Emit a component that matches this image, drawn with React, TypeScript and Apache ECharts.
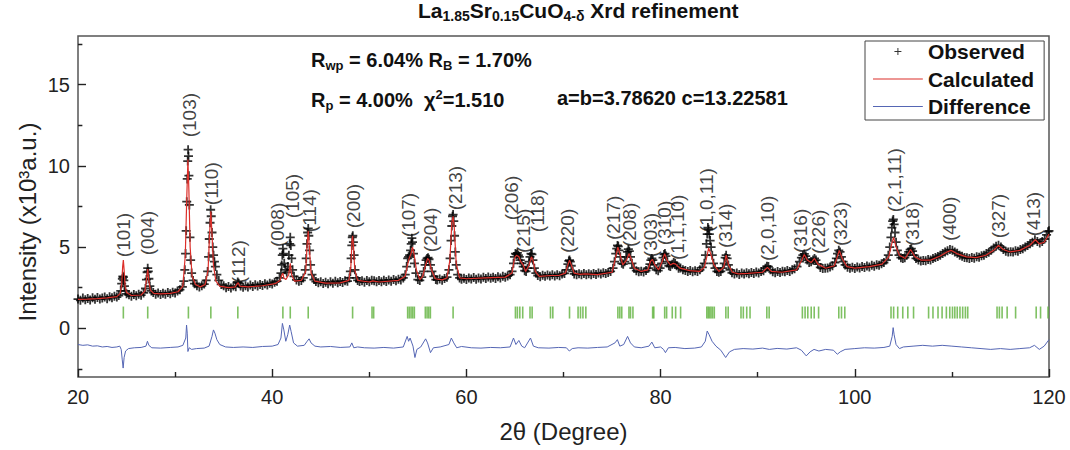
import { useEffect, useRef } from "react";
import * as echarts from "echarts";

const FONT = '"Liberation Sans", Arial, Helvetica, sans-serif';

// 2θ (deg), intensity (x10^3 a.u.)
const observed: [number, number][] = [
  [20.0,1.80],[20.25,1.72],[20.5,1.86],[20.75,1.76],[21.0,1.84],[21.25,1.74],[21.5,1.88],[21.75,1.79],[22.0,1.90],[22.25,1.80],[22.5,1.86],[22.75,1.92],[23.0,1.82],[23.25,1.94],[23.5,1.88],[23.75,1.98],[24.0,1.92],[24.2,2.02],
  [24.4,2.3],[24.5,2.75],[24.57,3.05],[24.62,3.2],[24.67,3.15],[24.72,2.95],[24.78,2.6],[24.88,2.3],[25.0,2.12],
  [25.25,2.06],[25.5,1.98],[25.75,2.08],[26.0,2.0],[26.25,2.1],[26.5,2.04],[26.75,2.18],
  [26.95,2.45],[27.05,3.0],[27.12,3.45],[27.18,3.7],[27.24,3.5],[27.3,3.05],[27.4,2.6],[27.55,2.3],
  [27.75,2.2],[28.0,2.1],[28.25,2.18],[28.5,2.08],[28.75,2.16],[29.0,2.1],[29.25,2.2],[29.5,2.12],[29.75,2.22],[30.0,2.18],[30.25,2.3],[30.5,2.38],[30.75,2.55],
  [30.9,2.9],[31.0,3.6],[31.08,4.6],[31.14,6.0],[31.2,7.8],[31.25,9.2],[31.3,10.3],[31.34,11.0],[31.38,10.6],[31.42,9.4],[31.47,7.6],[31.53,5.6],[31.6,4.2],[31.7,3.4],[31.85,2.95],[32.0,2.75],[32.25,2.62],[32.5,2.55],[32.75,2.62],[33.0,2.72],[33.2,2.95],
  [33.35,3.5],[33.45,4.4],[33.52,5.5],[33.6,6.5],[33.66,7.3],[33.72,6.9],[33.8,5.9],[33.88,5.0],[33.96,4.5],[34.05,4.1],[34.15,3.8],[34.3,3.3],[34.5,2.95],[34.75,2.7],[35.0,2.62],[35.25,2.5],[35.5,2.58],[35.75,2.48],[36.0,2.6],[36.25,2.56],[36.45,2.85],[36.55,2.78],[36.75,2.6],[37.0,2.52],[37.25,2.62],[37.5,2.55],[37.75,2.66],[38.0,2.58],[38.25,2.68],[38.5,2.6],[38.75,2.7],[39.0,2.64],[39.25,2.74],[39.5,2.66],[39.75,2.78],[40.0,2.72],[40.25,2.84],[40.5,2.9],[40.75,3.1],
  [40.9,3.4],[40.98,3.9],[41.04,4.5],[41.1,4.9],[41.16,4.6],[41.24,4.0],[41.35,3.6],[41.5,3.45],[41.62,3.8],[41.72,4.5],[41.8,5.2],[41.86,5.6],[41.92,5.1],[42.0,4.3],[42.1,3.6],[42.25,3.2],[42.5,2.98],[42.75,2.9],[43.0,2.95],[43.2,3.1],[43.4,3.6],
  [43.5,4.3],[43.58,5.2],[43.65,5.9],[43.71,6.15],[43.77,5.7],[43.85,4.8],[43.95,3.9],[44.1,3.3],[44.3,3.0],[44.5,2.88],[44.75,2.8],[45.0,2.86],[45.25,2.76],[45.5,2.84],[45.75,2.74],[46.0,2.86],[46.25,2.78],[46.5,2.9],[46.75,2.8],[47.0,2.88],[47.25,2.82],[47.5,2.92],[47.75,2.9],[47.95,3.1],
  [48.05,3.5],[48.13,4.3],[48.2,5.1],[48.25,5.6],[48.3,5.7],[48.36,5.3],[48.43,4.5],[48.52,3.6],[48.65,3.1],[48.8,2.95],[49.0,2.88],[49.25,2.92],[49.5,2.84],[49.75,2.94],[50.0,2.86],[50.25,2.96],[50.5,2.92],[50.75,2.86],[51.0,2.94],[51.25,2.86],[51.5,2.96],[51.75,2.88],[52.0,2.98],[52.25,2.9],[52.5,3.0],[52.75,2.92],[53.0,3.02],[53.25,2.98],[53.5,3.1],[53.7,3.3],
  [53.85,3.8],[53.95,4.3],[54.05,4.4],[54.15,4.5],[54.25,4.8],[54.32,5.2],[54.38,5.55],[54.45,5.3],[54.55,4.6],[54.65,4.0],[54.8,3.4],[55.0,3.0],[55.2,2.95],[55.4,3.15],[55.6,3.5],
  [55.75,3.9],[55.85,4.2],[55.95,4.3],[56.05,4.35],[56.15,4.25],[56.3,3.9],[56.45,3.5],[56.65,3.2],[56.85,3.0],[57.0,2.98],[57.25,3.04],[57.5,2.96],[57.75,3.06],[58.0,3.15],[58.2,3.6],
  [58.32,4.3],[58.42,5.4],[58.5,6.3],[58.57,6.9],[58.63,7.0],[58.7,6.6],[58.78,5.7],[58.86,4.7],[58.95,3.9],[59.1,3.3],[59.3,3.1],[59.5,3.02],[59.75,3.08],[60.0,3.0],[60.25,3.1],[60.5,3.04],[60.75,3.12],[61.0,3.02],[61.25,3.1],[61.5,3.04],[61.75,3.14],[62.0,3.06],[62.25,3.16],[62.5,3.08],[62.75,3.14],[63.0,3.06],[63.25,3.18],[63.5,3.1],[63.75,3.2],[64.0,3.14],[64.25,3.22],[64.5,3.3],
  [64.7,3.5],[64.85,4.0],[64.95,4.4],[65.05,4.6],[65.15,4.55],[65.25,4.65],[65.35,4.5],[65.45,4.4],[65.55,4.2],[65.7,4.0],[65.85,3.8],[66.0,3.55],[66.15,3.5],[66.3,3.7],[66.45,4.1],[66.55,4.4],[66.65,4.6],[66.75,4.55],[66.85,4.2],[67.0,3.7],[67.15,3.4],[67.35,3.25],[67.6,3.18],[67.85,3.26],[68.1,3.2],[68.35,3.28],[68.6,3.22],[68.85,3.3],[69.1,3.22],[69.35,3.3],[69.6,3.24],[69.85,3.34],[70.1,3.38],[70.3,3.6],
  [70.45,3.95],[70.55,4.15],[70.62,4.2],[70.7,4.1],[70.8,3.85],[70.95,3.5],[71.1,3.35],[71.35,3.3],[71.6,3.36],[71.85,3.3],[72.1,3.38],[72.35,3.3],[72.6,3.36],[72.85,3.3],[73.1,3.38],[73.35,3.32],[73.6,3.4],[73.85,3.34],[74.1,3.42],[74.35,3.38],[74.6,3.44],[74.85,3.5],[75.1,3.7],
  [75.25,4.1],[75.38,4.6],[75.48,4.9],[75.56,5.1],[75.64,5.05],[75.72,4.8],[75.85,4.4],[76.0,4.0],[76.15,3.95],[76.3,4.1],[76.45,4.4],[76.58,4.7],[76.68,4.87],[76.78,4.75],[76.9,4.4],[77.05,4.0],[77.25,3.7],[77.5,3.55],[77.75,3.48],[78.0,3.52],[78.25,3.46],[78.5,3.56],[78.75,3.7],
  [78.9,3.95],[79.0,4.2],[79.1,4.3],[79.2,4.2],[79.35,3.9],[79.55,3.6],[79.75,3.55],[79.95,3.7],[80.1,4.0],
  [80.25,4.35],[80.35,4.55],[80.45,4.6],[80.55,4.45],[80.7,4.1],[80.85,3.85],[81.0,3.8],
  [81.2,3.95],[81.35,4.05],[81.5,4.0],[81.65,3.85],[81.85,3.7],[82.05,3.72],[82.3,3.6],[82.55,3.56],[82.8,3.5],[83.05,3.56],[83.3,3.48],[83.55,3.54],[83.8,3.5],[84.05,3.6],[84.3,3.75],[84.5,4.0],
  [84.62,4.5],[84.72,5.2],[84.8,5.8],[84.87,6.2],[84.94,6.1],[85.02,5.8],[85.1,5.4],[85.2,5.0],[85.32,4.5],[85.45,4.0],[85.6,3.7],[85.8,3.5],[86.0,3.45],[86.2,3.5],[86.4,3.7],
  [86.55,4.0],[86.65,4.35],[86.75,4.5],[86.85,4.3],[86.98,3.9],[87.15,3.6],[87.35,3.42],[87.6,3.34],[87.85,3.4],[88.1,3.32],[88.35,3.4],[88.6,3.34],[88.85,3.42],[89.1,3.36],[89.35,3.44],[89.6,3.38],[89.85,3.46],[90.1,3.4],[90.35,3.5],[90.6,3.55],
  [90.8,3.7],[90.95,3.82],[91.1,3.8],[91.3,3.6],[91.55,3.48],[91.8,3.42],[92.05,3.5],[92.3,3.44],[92.55,3.52],[92.8,3.48],[93.05,3.56],[93.3,3.5],[93.55,3.6],[93.8,3.66],[94.05,3.8],[94.3,4.1],
  [94.5,4.35],[94.65,4.5],[94.8,4.58],[94.95,4.45],[95.1,4.2],[95.3,4.05],[95.5,4.1],[95.7,4.2],[95.85,4.3],[96.0,4.2],[96.2,3.95],[96.45,3.75],[96.7,3.68],[96.95,3.7],[97.2,3.72],[97.45,3.78],[97.7,3.85],[97.95,4.05],
  [98.1,4.3],[98.22,4.6],[98.35,4.8],[98.48,4.7],[98.62,4.4],[98.8,4.1],[99.0,3.9],[99.25,3.76],[99.5,3.7],[99.75,3.76],[100.0,3.68],[100.25,3.78],[100.5,3.72],[100.75,3.8],[101.0,3.74],[101.25,3.84],[101.5,3.78],[101.75,3.88],[102.0,3.82],[102.25,3.92],[102.5,3.88],[102.75,3.98],[103.0,4.05],[103.25,4.2],[103.45,4.5],
  [103.6,5.0],[103.72,5.6],[103.82,6.2],[103.9,6.6],[103.97,6.7],[104.05,6.4],[104.14,5.9],[104.25,5.3],[104.38,4.8],[104.55,4.5],[104.75,4.35],[104.95,4.3],[105.15,4.35],[105.35,4.5],
  [105.55,4.7],[105.7,4.85],[105.82,4.9],[105.95,4.75],[106.1,4.5],[106.3,4.3],[106.55,4.2],[106.8,4.14],[107.05,4.18],[107.3,4.16],[107.55,4.24],[107.8,4.2],[108.05,4.3],[108.3,4.36],[108.55,4.42],[108.8,4.5],[109.05,4.6],[109.3,4.7],[109.55,4.78],[109.8,4.85],[110.05,4.8],[110.3,4.7],[110.55,4.62],[110.8,4.5],[111.05,4.44],[111.3,4.36],[111.55,4.34],[111.8,4.3],[112.05,4.36],[112.3,4.32],[112.55,4.4],[112.8,4.38],[113.05,4.46],[113.3,4.5],[113.55,4.6],[113.8,4.68],[114.05,4.8],[114.3,4.95],[114.55,5.05],[114.8,5.12],[115.05,5.0],[115.3,4.85],[115.55,4.75],[115.8,4.7],[116.05,4.72],[116.3,4.7],[116.55,4.78],[116.8,4.75],[117.05,4.85],[117.3,4.9],[117.55,5.0],[117.8,5.1],[118.05,5.2],[118.3,5.3],[118.55,5.45],[118.8,5.35],[119.05,5.25],[119.3,5.35],[119.55,5.5],[119.75,5.75],[119.9,5.95],[120.0,6.0]
];

const calculated: [number, number][] = [
  [20.0,1.78],[21.0,1.8],[22.0,1.83],[23.0,1.87],[24.0,1.95],[24.35,2.15],[24.5,2.7],[24.6,3.8],[24.67,4.2],[24.75,3.6],[24.85,2.6],[25.0,2.2],[25.5,2.02],[26.5,2.05],[26.9,2.3],[27.05,3.0],[27.18,3.65],[27.3,2.9],[27.45,2.35],[27.8,2.15],[28.5,2.12],[29.5,2.15],[30.3,2.25],[30.8,2.6],[31.05,4.5],[31.2,8.0],[31.32,10.4],[31.42,8.5],[31.55,5.0],[31.75,3.2],[32.1,2.7],[32.6,2.55],[33.1,2.7],[33.4,3.6],[33.55,5.8],[33.68,7.2],[33.8,5.8],[33.95,3.9],[34.2,2.9],[34.6,2.6],[35.5,2.5],[36.2,2.55],[36.4,2.75],[36.5,2.8],[36.65,2.6],[37.5,2.55],[39.0,2.62],[40.3,2.75],[40.8,2.95],[41.0,3.3],[41.1,3.4],[41.2,3.1],[41.4,3.0],[41.7,3.3],[41.86,4.0],[42.0,3.3],[42.3,2.9],[43.0,2.95],[43.45,3.5],[43.6,5.2],[43.71,6.0],[43.82,5.0],[44.0,3.4],[44.4,2.9],[45.5,2.78],[47.0,2.8],[47.9,2.95],[48.1,3.8],[48.22,5.4],[48.28,5.7],[48.36,5.2],[48.5,3.6],[48.8,2.95],[50.0,2.85],[50.35,2.92],[51.0,2.85],[53.0,2.95],[53.7,3.2],[53.9,3.8],[54.1,4.3],[54.3,4.6],[54.45,5.0],[54.6,4.6],[54.85,3.6],[55.2,3.0],[55.5,3.2],[55.8,3.9],[56.0,4.3],[56.15,4.2],[56.4,3.6],[56.8,3.05],[57.5,2.98],[58.0,3.1],[58.3,4.2],[58.5,6.5],[58.63,6.9],[58.75,6.2],[58.95,4.0],[59.3,3.1],[60.0,3.05],[62.0,3.1],[64.0,3.15],[64.7,3.4],[64.95,4.3],[65.15,4.5],[65.4,4.4],[65.6,4.1],[65.85,3.9],[66.1,3.5],[66.45,3.9],[66.7,4.4],[66.85,4.2],[67.1,3.5],[67.5,3.2],[68.7,3.25],[69.5,3.25],[70.2,3.4],[70.45,3.9],[70.62,4.2],[70.8,3.9],[71.1,3.4],[71.7,3.32],[72.2,3.35],[73.5,3.3],[75.0,3.45],[75.35,4.3],[75.6,5.0],[75.8,4.6],[76.1,3.9],[76.5,4.2],[76.75,4.6],[76.95,4.3],[77.3,3.7],[78.0,3.5],[78.7,3.6],[78.95,4.1],[79.15,4.25],[79.4,3.9],[79.8,3.6],[80.15,4.1],[80.42,4.6],[80.65,4.2],[81.0,3.9],[81.3,4.0],[81.55,3.95],[82.0,3.7],[83.0,3.55],[84.0,3.5],[84.5,3.75],[84.8,4.5],[84.95,4.95],[85.15,4.6],[85.5,3.9],[86.0,3.5],[86.5,3.75],[86.75,4.5],[87.0,3.9],[87.4,3.45],[88.0,3.35],[89.0,3.38],[90.5,3.45],[91.0,3.75],[91.4,3.5],[92.5,3.45],[94.0,3.6],[94.55,4.2],[94.8,4.55],[95.1,4.2],[95.5,4.05],[95.85,4.3],[96.2,3.95],[97.0,3.7],[97.9,3.85],[98.2,4.4],[98.4,4.8],[98.7,4.3],[99.2,3.8],[100.0,3.7],[101.5,3.8],[102.8,3.95],[103.5,4.4],[103.8,5.2],[104.0,5.6],[104.25,5.0],[104.6,4.5],[105.2,4.3],[105.75,4.85],[106.2,4.4],[106.8,4.2],[107.8,4.2],[108.8,4.45],[109.5,4.7],[109.9,4.8],[110.5,4.6],[111.5,4.4],[112.5,4.35],[113.5,4.5],[114.3,4.8],[114.8,5.1],[115.3,4.85],[116.0,4.7],[117.0,4.8],[118.0,5.1],[118.6,5.45],[119.0,5.2],[119.5,5.3],[120.0,5.8]
];

const difference: [number, number][] = [
  [20,-1.0],[20.5,-1.05],[21,-1.02],[21.5,-1.1],[22,-1.08],[22.5,-1.15],[23,-1.12],[23.5,-1.18],[24,-1.15],[24.3,-1.1],[24.45,-1.3],[24.55,-1.9],[24.65,-2.45],[24.75,-1.8],[24.9,-1.4],[25.2,-1.25],[25.8,-1.2],[26.5,-1.18],[27.0,-1.1],[27.15,-0.8],[27.3,-1.05],[27.6,-1.2],[28.5,-1.22],[29.5,-1.18],[30.3,-1.15],[30.8,-1.05],[31.1,-0.6],[31.18,0.2],[31.25,-0.3],[31.32,-1.43],[31.45,-1.2],[31.7,-1.3],[32.2,-1.25],[33.0,-1.22],[33.5,-1.1],[33.8,-0.5],[33.95,-0.1],[34.1,-0.3],[34.3,-0.7],[34.6,-1.0],[35.2,-1.15],[36.0,-1.18],[37.0,-1.15],[38.0,-1.18],[39.0,-1.12],[40.0,-1.1],[40.6,-1.0],[40.9,-0.6],[41.05,0.3],[41.2,-0.1],[41.4,-0.8],[41.6,-0.4],[41.8,0.2],[41.95,-0.2],[42.2,-0.9],[42.6,-1.1],[43.3,-1.05],[43.6,-0.8],[43.8,-0.65],[44.0,-0.9],[44.4,-1.1],[45,-1.15],[46,-1.12],[47,-1.18],[48.0,-1.15],[48.2,-0.9],[48.4,-1.2],[48.8,-1.15],[49.5,-1.2],[50.5,-1.22],[51.5,-1.18],[52.5,-1.22],[53.5,-1.15],[53.9,-0.5],[54.05,-0.8],[54.2,-0.6],[54.5,-1.1],[54.7,-1.8],[54.9,-1.3],[55.3,-1.15],[55.8,-0.65],[56.0,-0.9],[56.3,-1.5],[56.6,-1.2],[57.3,-1.15],[58.2,-1.0],[58.45,-0.6],[58.7,-0.9],[59.0,-1.2],[59.5,-1.12],[60.5,-1.2],[61.5,-1.22],[62.5,-1.18],[63.5,-1.2],[64.5,-1.15],[64.85,-0.6],[65.1,-1.0],[65.4,-0.75],[65.7,-1.1],[66.0,-1.2],[66.6,-0.6],[66.9,-1.1],[67.4,-1.2],[68.5,-1.22],[69.5,-1.18],[70.3,-1.2],[70.6,-1.4],[70.9,-1.25],[71.5,-1.2],[72.5,-1.22],[73.5,-1.18],[74.5,-1.15],[75.3,-0.9],[75.55,-0.7],[75.8,-1.1],[76.2,-1.0],[76.6,-0.5],[76.9,-0.9],[77.3,-1.15],[78.0,-1.2],[78.8,-1.1],[79.1,-0.85],[79.4,-1.2],[80.0,-1.15],[80.3,-1.3],[80.5,-1.5],[80.8,-1.2],[81.5,-1.18],[82.5,-1.25],[83.5,-1.22],[84.2,-1.15],[84.6,-0.8],[84.8,-0.17],[85.0,-0.4],[85.3,-0.8],[85.7,-1.1],[86.2,-1.35],[86.7,-1.8],[87.1,-1.45],[87.6,-1.3],[88.5,-1.25],[89.5,-1.28],[90.5,-1.22],[91.2,-1.3],[92,-1.24],[93,-1.28],[94,-1.2],[94.5,-1.35],[95.0,-1.7],[95.4,-1.45],[95.8,-1.3],[96.3,-1.4],[97,-1.3],[97.8,-1.35],[98.2,-1.6],[98.5,-1.45],[99,-1.3],[100,-1.25],[101,-1.2],[102,-1.22],[103,-1.18],[103.6,-1.1],[103.85,-0.5],[103.95,0.04],[104.05,-0.4],[104.25,-1.0],[104.6,-1.25],[105.0,-1.15],[106.0,-1.1],[107.0,-1.05],[108.0,-1.1],[109.0,-1.05],[110.0,-1.1],[111.0,-1.15],[112.0,-1.2],[113.0,-1.25],[114.0,-1.3],[115.0,-1.25],[116.0,-1.3],[117.0,-1.25],[118.0,-1.2],[118.5,-1.05],[119.0,-1.3],[119.5,-1.1],[120.0,-0.7]
];

// Bragg reflection positions (2θ)
const braggPositions: number[] = [
  24.67,27.18,31.37,33.68,36.46,41.1,41.86,43.71,48.28,50.28,50.45,
  53.95,54.12,54.3,54.47,54.64,55.77,55.95,56.12,56.29,58.63,
  65.05,65.25,65.5,65.8,66.55,66.77,68.66,68.9,70.62,71.5,71.75,72.0,72.3,
  75.6,75.8,76.0,76.74,76.9,77.15,79.18,79.3,80.42,80.62,81.2,81.55,82.06,
  84.76,84.9,85.04,85.19,85.35,85.53,86.72,86.96,88.28,88.52,88.87,89.21,90.94,91.18,
  94.6,94.88,95.16,95.51,95.82,96.27,98.35,98.63,98.97,
  103.73,104.0,104.42,104.94,105.46,106.05,
  107.6,108.05,108.57,108.99,109.43,109.78,110.06,110.3,110.55,110.83,111.11,111.39,111.63,
  114.65,114.89,115.17,115.69,116.56,118.68,119.13,119.9
];
const braggLevel = 0.97;

const peakLabels: string[] = [
  "(101)","(004)","(103)","(110)","(112)","(008)","(105)","(114)","(200)",
  "(107)","(204)","(213)","(206)","(215)","(118)","(220)","(217)","(208)",
  "(303)","(310)","(1,1,10)","(1,0,11)","(314)","(2,0,10)","(316)","(226)",
  "(323)","(2,1,11)","(318)","(400)","(327)","(413)"
];
const peakLabelX: number[] = [
  24.69,27.16,31.5,33.72,36.5,40.51,42.06,43.84,48.37,
  54.04,56.3,58.88,64.61,65.85,67.29,70.41,75.15,76.8,
  78.96,80.4,81.74,84.73,86.68,91.0,94.4,96.26,
  98.52,104.04,105.94,109.75,114.8,118.4
];
const peakLabelY: number[] = [
  4.38,4.5,11.76,7.58,2.78,5.0,6.78,5.92,6.16,
  5.61,4.69,7.27,6.66,4.63,5.92,4.63,5.43,5.0,
  4.38,5.12,4.2,5.92,4.94,4.14,4.63,4.57,
  5.06,7.15,5.06,5.37,5.55,5.67
];

const xMinorTicks = [30, 50, 70, 90, 110];
const yLabelValues = [0, 5, 10, 15];
const yMinorTicks = [-2.5, 2.5, 7.5, 12.5, 17.5];

const plusPath = "path://M3.2,0h1.6v3.2h3.2v1.6h-3.2v3.2h-1.6v-3.2h-3.2v-1.6h3.2z";
const plusLegendIcon =
  "path://M0,0h0.05v0.05h-0.05z M50,14h0.05v0.05h-0.05z M21.5,6.5h7v1h-7z M24.5,3.5h1v7h-1z";
const lineLegendIcon =
  "path://M0,0h0.05v0.05h-0.05z M50,14h0.05v0.05h-0.05z M0,6.5h50v1.1h-50z";

export default function App() {
  const ref = useRef<HTMLDivElement>(null);
  useEffect(() => {
    const chart = echarts.init(ref.current!, null, { renderer: "svg" });
    const boldRich = {
      m: { fontFamily: FONT, fontSize: 20, fontWeight: "bold", fill: "#111", lineHeight: 24 },
      s: { fontFamily: FONT, fontSize: 13, fontWeight: "bold", fill: "#111", lineHeight: 14, verticalAlign: "bottom" },
      u: { fontFamily: FONT, fontSize: 13, fontWeight: "bold", fill: "#111", lineHeight: 14, verticalAlign: "top" },
    };
    const titleRich = {
      m: { fontFamily: FONT, fontSize: 21, fontWeight: "bold", fill: "#111", lineHeight: 25 },
      s: { fontFamily: FONT, fontSize: 14, fontWeight: "bold", fill: "#111", lineHeight: 14, verticalAlign: "bottom" },
    };
    const tickStyle = { color: "#222", width: 1.4 };
    const option: any = {
      animation: false,
      backgroundColor: "#fff",
      grid: {
        left: 78, top: 36, width: 971, height: 341,
        show: true, borderColor: "#555", borderWidth: 1.5, backgroundColor: "transparent",
      },
      legend: {
        orient: "vertical", left: 865, top: 41,
        itemWidth: 50, itemHeight: 14, itemGap: 6.5,
        padding: [0, 10, 3, 8],
        borderColor: "#444", borderWidth: 1,
        selectedMode: false,
        textStyle: { fontFamily: FONT, fontSize: 21, fontWeight: "bold", color: "#111", lineHeight: 21 },
        data: [
          { name: "Observed", icon: plusLegendIcon },
          { name: "Calculated", icon: lineLegendIcon },
          { name: "Difference", icon: lineLegendIcon },
        ],
      },
      xAxis: {
        type: "value", min: 20, max: 120, interval: 20,
        axisLine: { show: false, onZero: false },
        axisTick: { show: true, inside: true, length: 8, lineStyle: tickStyle },
        splitLine: { show: false },
        axisLabel: { fontFamily: FONT, fontSize: 20, color: "#222", margin: 10 },
        name: "2θ (Degree)", nameLocation: "middle", nameGap: 42,
        nameTextStyle: { fontFamily: FONT, fontSize: 24, color: "#222" },
      },
      yAxis: {
        type: "value", min: -3, max: 18,
        axisLine: { show: false, onZero: false },
        axisTick: { show: true, inside: true, length: 8, customValues: yLabelValues, lineStyle: tickStyle },
        splitLine: { show: false },
        axisLabel: { customValues: yLabelValues, fontFamily: FONT, fontSize: 20, color: "#222", margin: 8 },
      },
      graphic: [
        {
          type: "text", left: 418, top: 0,
          style: {
            text: "{m|La}{s|1.85}{m|Sr}{s|0.15}{m|CuO}{s|4-δ}{m| Xrd refinement}",
            rich: titleRich,
          },
        },
        {
          type: "text", left: 311, top: 50,
          style: { text: "{m|R}{s|wp}{m| = 6.04% R}{s|B}{m| = 1.70%}", rich: boldRich },
        },
        {
          type: "text", left: 311, top: 88,
          style: { text: "{m|R}{s|p}{m| = 4.00%  χ}{u|2}{m|=1.510}", rich: boldRich },
        },
        {
          type: "text", left: 557, top: 88,
          style: { text: "{m|a=b=3.78620 c=13.22581}", rich: boldRich },
        },
        {
          type: "text", x: 27, y: 222, rotation: Math.PI / 2,
          style: {
            text: "Intensity (x10³a.u.)",
            fontFamily: FONT, fontSize: 24, fill: "#222",
            align: "center", verticalAlign: "middle",
            textAlign: "center", textVerticalAlign: "middle",
          },
        },
      ],
      series: [
        {
          name: "Observed", type: "scatter", symbol: plusPath, symbolSize: 9,
          itemStyle: { color: "#000" }, data: observed, z: 2, silent: true,
        },
        {
          name: "Calculated", type: "line", symbol: "none", data: calculated,
          lineStyle: { color: "#dc2f2a", width: 1.2 }, itemStyle: { color: "#dc2f2a" }, z: 3, silent: true,
        },
        {
          name: "Difference", type: "line", symbol: "none", data: difference,
          lineStyle: { color: "#5566b4", width: 1 }, itemStyle: { color: "#5566b4" }, z: 3, silent: true,
        },
        {
          name: "Bragg", type: "scatter", symbol: "rect", symbolSize: [1.6, 12],
          itemStyle: { color: "#5fb23c" }, z: 2, silent: true,
          data: braggPositions.map((p) => [p, braggLevel]),
        },
        {
          name: "hkl", type: "scatter", symbol: "circle", symbolSize: 1,
          itemStyle: { color: "rgba(0,0,0,0)" }, z: 5, silent: true,
          data: peakLabels.map((t, i) => ({ name: t, value: [peakLabelX[i], peakLabelY[i]] })),
          label: {
            show: true, formatter: "{b}", rotate: 90, position: "inside",
            align: "left", verticalAlign: "middle",
            fontFamily: FONT, fontSize: 19, color: "#111",
          },
        },
        {
          name: "minorTicks", type: "lines", coordinateSystem: "cartesian2d", z: 6, silent: true,
          lineStyle: { color: "#222", width: 1.4, opacity: 1 },
          data: [
            ...xMinorTicks.map((v) => ({ coords: [[v, -3], [v, -2.69]] })),
            ...yMinorTicks.map((v) => ({ coords: [[20, v], [20.45, v]] })),
          ],
        },
      ],
    };
    chart.setOption(option);
    return () => chart.dispose();
  }, []);
  return (
    <div
      ref={ref}
      style={{ position: "fixed", left: 0, top: 0, width: 1070, height: 450, background: "#fff" }}
    />
  );
}
